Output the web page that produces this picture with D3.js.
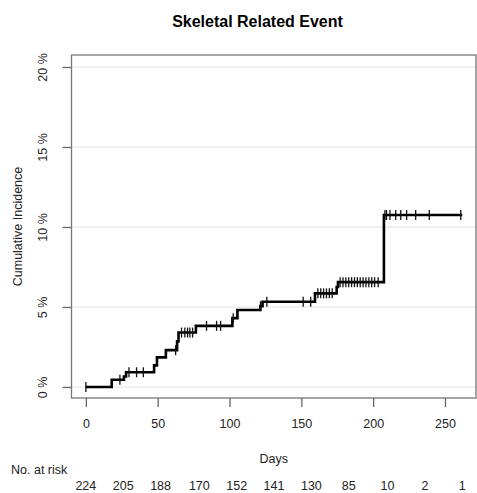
<!DOCTYPE html>
<html>
<head>
<meta charset="utf-8">
<script src="https://cdn.jsdelivr.net/npm/d3@7"></script>
<style>
  body { margin: 0; background: #fff; }
  text { font-family: "Liberation Sans", Arial, sans-serif; fill: #222; }
</style>
</head>
<body>
<div id="chart"></div>
<script>
// step curve: time of each jump and cumulative incidence (%) after it
var eventTimes = [0, 18, 26.5, 28, 47.5, 49.5, 55.7, 63.5, 64.5, 76.6, 102, 105.5, 121.5, 123, 159.5, 174.6, 175.5, 207.5];
var cumInc = [0, 0.45, 0.65, 0.92, 1.35, 1.85, 2.3, 2.85, 3.4, 3.82, 4.3, 4.81, 5.05, 5.33, 5.85, 6.25, 6.55, 10.75];
var lastTime = 262;

// censored observations (tick marks)
var censorTimes = [0, 23.7, 30, 35.3, 40, 62.5, 66.6, 68.9, 70.8, 72.4, 74.3, 84, 91, 93.8, 102.6,
  121.6, 126, 151.3, 156.5, 161.5, 163.5, 165.5, 167.5, 169.5, 171.5,
  177, 179, 181, 183, 185, 187, 189, 191, 193, 195, 197, 199, 201, 203.5,
  208.2, 209.3, 211.7, 215.7, 219.2, 223.3, 229.6, 239.1, 261];

var xTicks = [0, 50, 100, 150, 200, 250];
var yTicks = [0, 5, 10, 15, 20];

var atRiskTimes = [0, 26, 52, 79, 105, 131, 157, 183, 210, 236, 262];
var atRisk = [224, 205, 188, 170, 152, 141, 130, 85, 10, 2, 1];

var svgWidth = 477;
var svgHeight = 493;
var box = { left: 71.5, right: 476, top: 55, bottom: 398 };

var svg = d3.select('#chart')
  .append('svg')
  .attr('width', svgWidth)
  .attr('height', svgHeight);

var x = d3.scaleLinear().domain([-10, 271.6]).range([box.left, box.right]);
var y = d3.scaleLinear().domain([-0.69, 20.75]).range([box.bottom, box.top]);

// title
svg.append('text')
  .attr('x', 257.5)
  .attr('y', 27)
  .attr('text-anchor', 'middle')
  .attr('font-size', '16px')
  .attr('font-weight', 'bold')
  .style('fill', '#000')
  .text('Skeletal Related Event');

// grid lines
svg.append('g')
  .selectAll('line')
  .data(yTicks)
  .enter()
  .append('line')
  .attr('x1', box.left)
  .attr('x2', box.right)
  .attr('y1', d => y(d))
  .attr('y2', d => y(d))
  .attr('stroke', '#ebebeb')
  .attr('stroke-width', 1.5);

// x axis
var xAxis = svg.append('g')
  .attr('transform', `translate(0, ${box.bottom})`)
  .call(d3.axisBottom(x).tickValues(xTicks).tickSize(9).tickPadding(12));
xAxis.select('.domain').remove();
xAxis.selectAll('line').attr('stroke', '#666').attr('stroke-width', 1.3);
xAxis.selectAll('text')
  .attr('font-size', '12.5px')
  .attr('font-family', '"Liberation Sans", Arial, sans-serif')
  .style('fill', '#222');

// y axis (rotated labels)
var yAxis = svg.append('g')
  .attr('transform', `translate(${box.left}, 0)`)
  .call(d3.axisLeft(y).tickValues(yTicks).tickSize(9).tickFormat(d => d + ' %'));
yAxis.select('.domain').remove();
yAxis.selectAll('line').attr('stroke', '#666').attr('stroke-width', 1.3);
yAxis.selectAll('text')
  .attr('x', null)
  .attr('dy', null)
  .attr('text-anchor', 'middle')
  .attr('transform', 'translate(-28, 0) rotate(-90)')
  .attr('dominant-baseline', 'middle')
  .attr('font-size', '12.5px')
  .attr('font-family', '"Liberation Sans", Arial, sans-serif')
  .style('fill', '#222');

// plot box
svg.append('rect')
  .attr('x', box.left)
  .attr('y', box.top)
  .attr('width', box.right - box.left)
  .attr('height', box.bottom - box.top)
  .attr('fill', 'none')
  .attr('stroke', '#777')
  .attr('stroke-width', 1.3);

// axis titles
svg.append('text')
  .attr('transform', `translate(19, ${(box.top + box.bottom) / 2}) rotate(-90)`)
  .attr('text-anchor', 'middle')
  .attr('dominant-baseline', 'middle')
  .attr('font-size', '12.5px')
  .text('Cumulative Incidence');

svg.append('text')
  .attr('x', (box.left + box.right) / 2)
  .attr('y', 463)
  .attr('text-anchor', 'middle')
  .attr('font-size', '12.5px')
  .text('Days');

// step curve
var steps = eventTimes.map((t, i) => [t, cumInc[i]]);
steps.push([lastTime, cumInc[cumInc.length - 1]]);

var line = d3.line()
  .x(d => x(d[0]))
  .y(d => y(d[1]))
  .curve(d3.curveStepAfter);

svg.append('path')
  .datum(steps)
  .attr('d', line)
  .attr('fill', 'none')
  .attr('stroke', '#000')
  .attr('stroke-width', 2.6);

// value of the step function at a given time
function stepAt(t) {
  var v = 0;
  eventTimes.forEach(function(et, i) {
    if (et <= t) v = cumInc[i];
  });
  return v;
}

svg.append('g')
  .selectAll('line')
  .data(censorTimes)
  .enter()
  .append('line')
  .attr('x1', d => x(d))
  .attr('x2', d => x(d))
  .attr('y1', d => y(stepAt(d)) - 5)
  .attr('y2', d => y(stepAt(d)) + 5)
  .attr('stroke', '#111')
  .attr('stroke-width', 1.3);

// risk table
svg.append('text')
  .attr('x', 11)
  .attr('y', 474)
  .attr('font-size', '12.5px')
  .text('No. at risk');

svg.append('g')
  .selectAll('text')
  .data(atRisk)
  .enter()
  .append('text')
  .attr('x', (d, i) => x(atRiskTimes[i]))
  .attr('y', 490)
  .attr('text-anchor', 'middle')
  .attr('font-size', '12.5px')
  .text(d => d);
</script>
</body>
</html>
